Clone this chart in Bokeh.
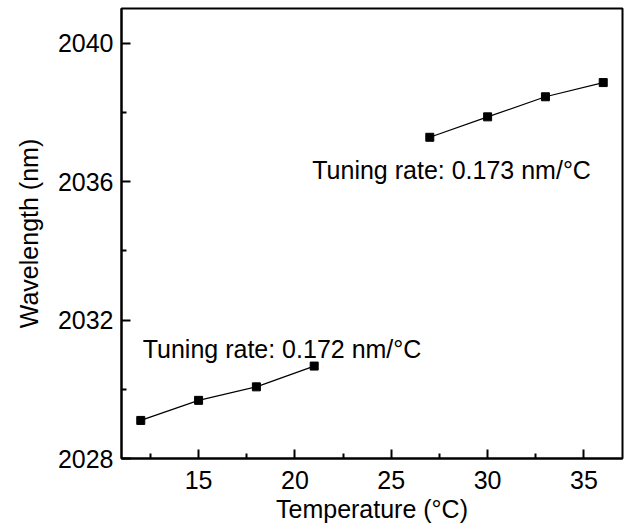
from bokeh.plotting import figure
from bokeh.models import FixedTicker, Label, Range1d
from bokeh.embed import file_html
from bokeh.resources import INLINE

# Data
temp_low = [12, 15, 18, 21]
wl_low = [2029.10, 2029.68, 2030.07, 2030.67]
temp_high = [27, 30, 33, 36]
wl_high = [2037.28, 2037.87, 2038.45, 2038.86]

x_ticks = [15, 20, 25, 30, 35]
x_minor = [12.5, 17.5, 22.5, 27.5, 32.5]
y_ticks = [2028, 2032, 2036, 2040]
y_minor = [2030, 2034, 2038]

ann_texts = ["Tuning rate: 0.172 nm/°C", "Tuning rate: 0.173 nm/°C"]
ann_x = [12.1, 20.9]
ann_y = [2031.15, 2036.34]

FONT = "Liberation Sans"

p = figure(width=624, height=525, x_range=Range1d(11, 37), y_range=Range1d(2028, 2041),
           output_backend="svg", toolbar_location=None,
           min_border_left=121, min_border_right=2, min_border_top=8, min_border_bottom=66)

p.xgrid.visible = False
p.ygrid.visible = False
p.outline_line_color = "black"
p.outline_line_width = 2
p.background_fill_color = "white"
p.border_fill_color = "white"

p.xaxis.ticker = FixedTicker(ticks=x_ticks, minor_ticks=x_minor)
p.yaxis.ticker = FixedTicker(ticks=y_ticks, minor_ticks=y_minor)

for ax in (p.xaxis, p.yaxis):
    ax.axis_line_width = 2
    ax.axis_line_color = "black"
    ax.major_tick_in = 9
    ax.major_tick_out = 0
    ax.minor_tick_in = 5
    ax.minor_tick_out = 0
    ax.major_tick_line_width = 2
    ax.minor_tick_line_width = 2
    ax.major_label_text_font = FONT
    ax.major_label_text_font_size = "25px"
    ax.major_label_text_color = "black"
    ax.axis_label_text_font = FONT
    ax.axis_label_text_font_size = "25px"
    ax.axis_label_text_font_style = "normal"
    ax.axis_label_text_color = "black"
    ax.major_label_standoff = 8

p.xaxis.major_label_standoff = 12
p.xaxis.axis_label = "Temperature (°C)"
p.yaxis.axis_label = "Wavelength (nm)"
p.xaxis.axis_label_standoff = 3
p.yaxis.axis_label_standoff = 12

p.line(temp_low, wl_low, line_color="black", line_width=1.2)
p.line(temp_high, wl_high, line_color="black", line_width=1.2)
p.scatter(temp_low, wl_low, marker="square", size=8, color="black")
p.scatter(temp_high, wl_high, marker="square", size=8, color="black")

for t, x, y in zip(ann_texts, ann_x, ann_y):
    p.add_layout(Label(x=x, y=y, text=t, text_font=FONT, text_font_size="25px",
                       text_color="black", text_baseline="alphabetic", text_align="left"))

open("out.html", "w").write(file_html(p, INLINE))
